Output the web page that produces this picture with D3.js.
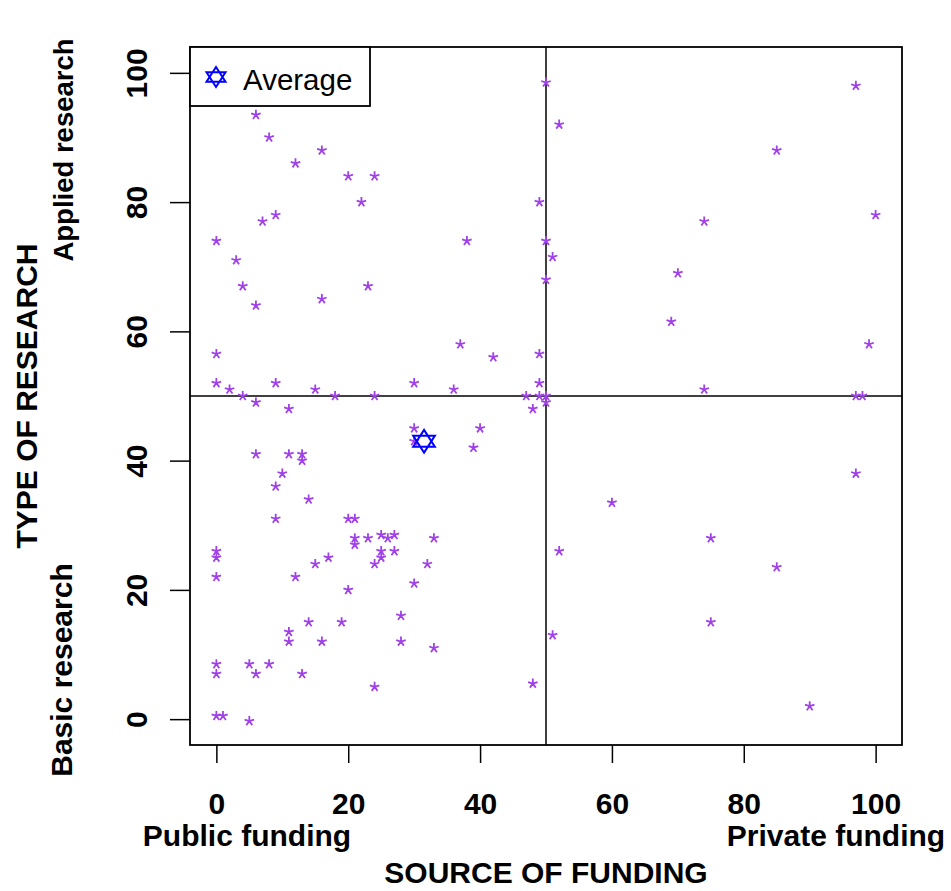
<!DOCTYPE html>
<html>
<head>
<meta charset="utf-8">
<script src="https://cdn.jsdelivr.net/npm/d3@7"></script>
<style>
  body { margin: 0; background: #fff; }
  text { font-family: "Liberation Sans", Arial, sans-serif; }
</style>
</head>
<body>
<div id="chart"></div>
<script>
// source of funding (0 = public, 100 = private) for each project
const funding = [
  50, 6, 8, 16, 12, 20, 24, 22, 49, 9, 7, 0, 38, 50, 51, 3, 4, 23, 50, 16,
  6, 37, 0, 42, 49, 0, 2, 9, 15, 30, 36, 49, 4, 18, 24, 47, 49, 50, 50, 6,
  11, 48, 30, 40, 30, 39, 6, 11, 13, 13, 10, 9, 14, 9, 20, 21, 21, 21, 23, 25,
  27, 26, 33, 25, 25, 27, 0, 0, 17, 15, 24, 32, 0, 12, 20, 30, 28, 14, 19, 11,
  11, 16, 28, 33, 51, 0, 5, 8, 0, 6, 13, 24, 48, 0, 1, 5,
  97, 52, 85, 100, 74, 70, 69, 99, 74, 97, 98, 97, 60, 75, 52, 85, 75, 90
]
// type of research (0 = basic, 100 = applied) for each project
const research = [
  98.5, 93.5, 90, 88, 86, 84, 84, 80, 80, 78, 77, 74, 74, 74, 71.5, 71, 67, 67, 68, 65,
  64, 58, 56.5, 56, 56.5, 52, 51, 52, 51, 52, 51, 52, 50, 50, 50, 50, 50, 50, 49, 49,
  48, 48, 45, 45, 43, 42, 41, 41, 41, 40, 38, 36, 34, 31, 31, 31, 28, 27, 28, 28.5,
  28.5, 28, 28, 26, 25, 26, 26, 25, 25, 24, 24, 24, 22, 22, 20, 21, 16, 15, 15, 13.5,
  12, 12, 12, 11, 13, 8.5, 8.5, 8.5, 7, 7, 7, 5, 5.5, 0.5, 0.5, -0.3,
  98, 92, 88, 78, 77, 69, 61.5, 58, 51, 50, 50, 38, 33.5, 28, 26, 23.5, 15, 2
]
const average = [31.5, 43]
const xTicks = [0, 20, 40, 60, 80, 100]
const yTicks = [0, 20, 40, 60, 80, 100]

const W = 951, H = 891
const MARGIN = {TOP: 47, BOTTOM: 146, LEFT: 190, RIGHT: 49}

const svg = d3.select('#chart').append('svg')
  .attr('width', W)
  .attr('height', H)

const x = d3.scaleLinear().domain([-4, 104]).range([MARGIN.LEFT, W - MARGIN.RIGHT])
const y = d3.scaleLinear().domain([-4, 104]).range([H - MARGIN.BOTTOM, MARGIN.TOP])

// 5-armed asterisk like the "*" glyph
const asterisk = {
  draw(ctx, size) {
    const r = Math.sqrt(size)
    for (let i = 0; i < 5; i++) {
      const a = -Math.PI / 2 + i * 2 * Math.PI / 5
      ctx.moveTo(0, 0)
      ctx.lineTo(r * Math.cos(a), r * Math.sin(a))
    }
  }
}
// two triangles, up and down
const hexagram = {
  draw(ctx, size) {
    const r = Math.sqrt(size)
    ctx.moveTo(0, -r); ctx.lineTo(r * 0.95, r * 0.48); ctx.lineTo(-r * 0.95, r * 0.48); ctx.closePath()
    ctx.moveTo(0, r); ctx.lineTo(r * 0.95, -r * 0.48); ctx.lineTo(-r * 0.95, -r * 0.48); ctx.closePath()
  }
}

// axes
const xAxis = svg.append('g')
  .attr('transform', `translate(0, ${H - MARGIN.BOTTOM})`)
  .call(d3.axisBottom(x).tickValues(xTicks).tickSize(18).tickPadding(30))
const yAxis = svg.append('g')
  .attr('transform', `translate(${MARGIN.LEFT}, 0)`)
  .call(d3.axisLeft(y).tickValues(yTicks).tickSize(20))

xAxis.select('.domain').remove()
yAxis.select('.domain').remove()
svg.selectAll('.tick line').attr('stroke', '#000').attr('stroke-width', 1.5)
xAxis.selectAll('.tick text')
  .attr('fill', '#000')
  .attr('font-size', 30)
  .attr('font-weight', 'bold')
  .attr('font-family', '"Liberation Sans", Arial, sans-serif')
yAxis.selectAll('.tick text')
  .attr('fill', '#000')
  .attr('font-size', 30)
  .attr('font-weight', 'bold')
  .attr('font-family', '"Liberation Sans", Arial, sans-serif')
  .attr('text-anchor', 'middle')
  .attr('dy', 0)
  .attr('x', 0)
  .attr('transform', 'translate(-43, 0) rotate(-90)')

// quadrant lines
svg.append('line')
  .attr('x1', x(50)).attr('x2', x(50))
  .attr('y1', MARGIN.TOP).attr('y2', H - MARGIN.BOTTOM)
  .attr('stroke', '#000').attr('stroke-width', 1.5)
svg.append('line')
  .attr('x1', MARGIN.LEFT).attr('x2', W - MARGIN.RIGHT)
  .attr('y1', y(50)).attr('y2', y(50))
  .attr('stroke', '#000').attr('stroke-width', 1.5)

// points
svg.selectAll('path.pt')
  .data(funding.map((f, i) => [f, research[i]]))
  .enter()
  .append('path')
  .attr('class', 'pt')
  .attr('transform', d => `translate(${x(d[0])}, ${y(d[1])})`)
  .attr('d', d3.symbol().type(asterisk).size(25))
  .attr('fill', 'none')
  .attr('stroke', '#a040e8')
  .attr('stroke-width', 1.8)

// average
svg.append('path')
  .attr('transform', `translate(${x(average[0])}, ${y(average[1])})`)
  .attr('d', d3.symbol().type(hexagram).size(130))
  .attr('fill', 'none')
  .attr('stroke', '#0000ff')
  .attr('stroke-width', 2)

// frame
svg.append('rect')
  .attr('x', MARGIN.LEFT).attr('y', MARGIN.TOP)
  .attr('width', W - MARGIN.LEFT - MARGIN.RIGHT)
  .attr('height', H - MARGIN.TOP - MARGIN.BOTTOM)
  .attr('fill', 'none').attr('stroke', '#000').attr('stroke-width', 1.8)

// legend
const legend = svg.append('g')
legend.append('rect')
  .attr('x', MARGIN.LEFT).attr('y', MARGIN.TOP)
  .attr('width', 180).attr('height', 59)
  .attr('fill', '#fff').attr('stroke', '#000').attr('stroke-width', 1.8)
legend.append('path')
  .attr('transform', `translate(${MARGIN.LEFT + 26}, ${MARGIN.TOP + 30})`)
  .attr('d', d3.symbol().type(hexagram).size(100))
  .attr('fill', 'none')
  .attr('stroke', '#0000ff')
  .attr('stroke-width', 2)
legend.append('text')
  .attr('x', MARGIN.LEFT + 53).attr('y', MARGIN.TOP + 43)
  .attr('font-size', 29.5)
  .text('Average')

// axis titles
svg.append('text')
  .attr('x', 247).attr('y', 846)
  .attr('text-anchor', 'middle')
  .attr('font-size', 30).attr('font-weight', 'bold')
  .text('Public funding')
svg.append('text')
  .attr('x', 836).attr('y', 846)
  .attr('text-anchor', 'middle')
  .attr('font-size', 30).attr('font-weight', 'bold')
  .text('Private funding')
svg.append('text')
  .attr('x', (MARGIN.LEFT + W - MARGIN.RIGHT) / 2).attr('y', 883)
  .attr('text-anchor', 'middle')
  .attr('font-size', 30).attr('font-weight', 'bold')
  .text('SOURCE OF FUNDING')

svg.append('text')
  .attr('transform', `translate(37, ${(MARGIN.TOP + H - MARGIN.BOTTOM) / 2}) rotate(-90)`)
  .attr('text-anchor', 'middle')
  .attr('font-size', 30).attr('font-weight', 'bold')
  .text('TYPE OF RESEARCH')
svg.append('text')
  .attr('transform', 'translate(73, 150) rotate(-90)')
  .attr('text-anchor', 'middle')
  .attr('font-size', 27.5).attr('font-weight', 'bold')
  .text('Applied research')
svg.append('text')
  .attr('transform', 'translate(72, 670) rotate(-90)')
  .attr('text-anchor', 'middle')
  .attr('font-size', 30).attr('font-weight', 'bold')
  .text('Basic research')
</script>
</body>
</html>
